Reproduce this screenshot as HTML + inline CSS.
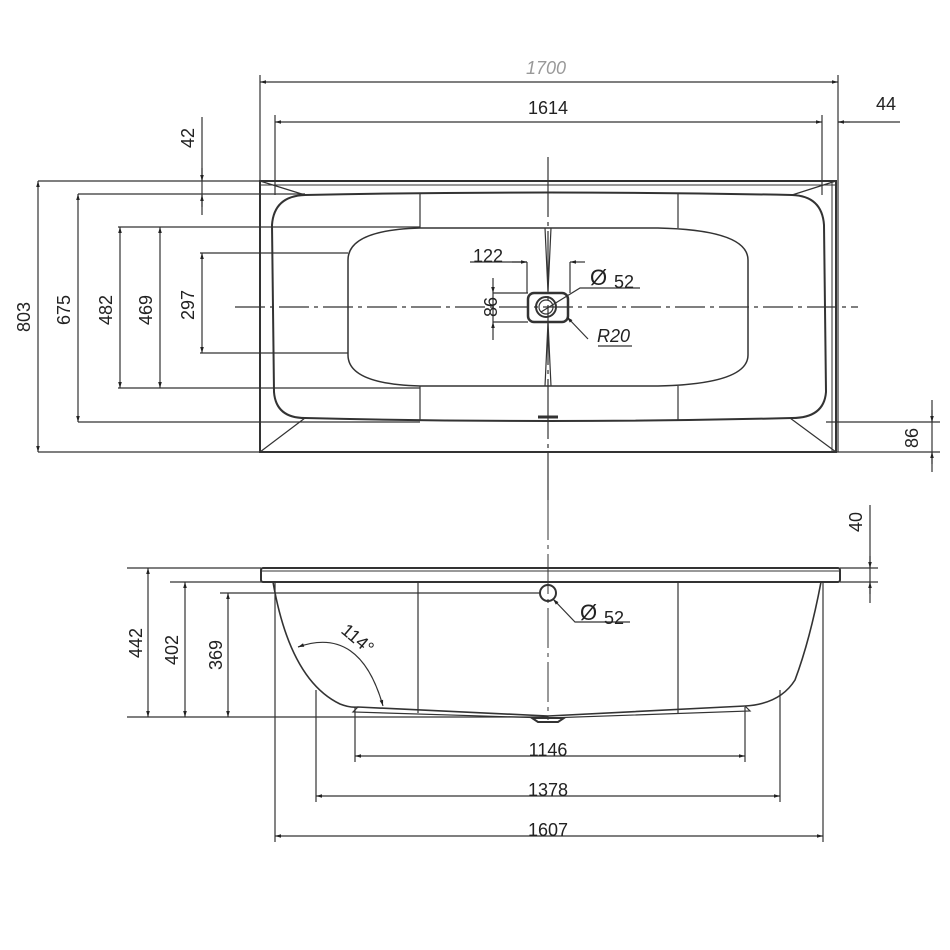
<!DOCTYPE html>
<html><head><meta charset="utf-8"><style>
html,body{margin:0;padding:0;background:#fff;}
svg{display:block}
text{font-family:"Liberation Sans","DejaVu Sans",sans-serif;font-size:18px;fill:#222}
</style></head><body>
<svg width="950" height="950" viewBox="0 0 950 950" xmlns="http://www.w3.org/2000/svg">
<defs>
<marker id="a" viewBox="0 0 10 10" refX="10" refY="5" markerWidth="8" markerHeight="6" orient="auto-start-reverse" markerUnits="userSpaceOnUse"><path d="M0,2 L10,5 L0,8z" fill="#222"/></marker>
</defs>
<g stroke="#333" stroke-width="1.2" fill="none">
<rect x="260" y="181" width="576" height="271" stroke-width="2"/>
<line x1="260" y1="185" x2="836" y2="185" stroke-width="1"/>
<line x1="832" y1="181" x2="832" y2="452" stroke-width="1"/>
<path d="M305,195 Q548,190 792,195 Q822,196 824,225 L826,392 Q824,418 792,418 Q548,424 305,418 Q276,418 274,392 L272,225 Q274,196 305,195Z" stroke-width="2"/>
<path d="M260,181 L305,195 M260,452 L305,418 M836,181 L792,195 M836,452 L790,418"/>
<path d="M420,228 L658,228 Q748,230 748,260 L748,355 Q748,384 658,386 L420,386 Q348,384 348,355 L348,260 Q348,230 420,228Z" stroke-width="1.5"/>
<line x1="420" y1="194" x2="420" y2="228"/><line x1="420" y1="386" x2="420" y2="420"/>
<line x1="678" y1="194" x2="678" y2="228"/><line x1="678" y1="386" x2="678" y2="420"/>
<line x1="235" y1="307" x2="858" y2="307" stroke-dasharray="30 5 4 5"/>
<line x1="548" y1="157" x2="548" y2="500" stroke-dasharray="60 5 4 5"/>
<line x1="548" y1="500" x2="548" y2="720" stroke-dasharray="40 5 4 5" stroke-width="1"/>
<path d="M545,228 L548,292 L551,228 M545,386 L548,322 L551,386"/>
<line x1="538" y1="417" x2="558" y2="417" stroke-width="3"/>
<rect x="528" y="293" width="40" height="29" rx="6" stroke-width="2.5"/>
<circle cx="546" cy="307" r="10" stroke-width="2"/>
<circle cx="546" cy="307" r="7"/>
<path d="M541,312 L580,288 L640,288"/>
<path d="M567,317 L588,339" marker-start="url(#a)"/>
<line x1="598" y1="346" x2="632" y2="346"/>
<line x1="527" y1="262" x2="527" y2="293"/><line x1="570" y1="262" x2="570" y2="293"/>
<line x1="470" y1="262" x2="527" y2="262"/>
<line x1="512" y1="262" x2="527" y2="262" marker-end="url(#a)"/>
<line x1="585" y1="262" x2="570" y2="262" marker-end="url(#a)"/>
<line x1="493" y1="293" x2="528" y2="293"/><line x1="493" y1="322" x2="528" y2="322"/>
<line x1="493" y1="278" x2="493" y2="293" marker-end="url(#a)"/>
<line x1="493" y1="340" x2="493" y2="322" marker-end="url(#a)"/>
<line x1="493" y1="293" x2="493" y2="322"/>
<line x1="260" y1="75" x2="260" y2="181"/><line x1="838" y1="75" x2="838" y2="452"/>
<line x1="260" y1="82" x2="838" y2="82" marker-start="url(#a)" marker-end="url(#a)"/>
<line x1="275" y1="115" x2="275" y2="195"/><line x1="822" y1="115" x2="822" y2="195"/>
<line x1="275" y1="122" x2="822" y2="122" marker-start="url(#a)" marker-end="url(#a)"/>
<line x1="838" y1="122" x2="900" y2="122"/>
<line x1="850" y1="122" x2="838" y2="122" marker-end="url(#a)"/>
<line x1="38" y1="181" x2="260" y2="181"/><line x1="38" y1="452" x2="260" y2="452"/>
<line x1="38" y1="181" x2="38" y2="452" marker-start="url(#a)" marker-end="url(#a)"/>
<line x1="78" y1="194" x2="305" y2="194"/><line x1="78" y1="422" x2="420" y2="422"/>
<line x1="78" y1="194" x2="78" y2="422" marker-start="url(#a)" marker-end="url(#a)"/>
<line x1="118" y1="227" x2="420" y2="227"/><line x1="118" y1="388" x2="420" y2="388"/>
<line x1="120" y1="227" x2="120" y2="388" marker-start="url(#a)" marker-end="url(#a)"/>
<line x1="160" y1="227" x2="160" y2="388" marker-start="url(#a)" marker-end="url(#a)"/>
<line x1="200" y1="253" x2="348" y2="253"/><line x1="200" y1="353" x2="348" y2="353"/>
<line x1="202" y1="253" x2="202" y2="353" marker-start="url(#a)" marker-end="url(#a)"/>
<line x1="202" y1="117" x2="202" y2="215"/>
<line x1="202" y1="168" x2="202" y2="181" marker-end="url(#a)"/>
<line x1="202" y1="207" x2="202" y2="195" marker-end="url(#a)"/>
<line x1="826" y1="422" x2="940" y2="422"/><line x1="836" y1="452" x2="940" y2="452"/>
<line x1="932" y1="400" x2="932" y2="472"/>
<line x1="932" y1="410" x2="932" y2="422" marker-end="url(#a)"/>
<line x1="932" y1="464" x2="932" y2="452" marker-end="url(#a)"/>
<rect x="261" y="568" width="579" height="14" rx="2" stroke-width="2"/>
<line x1="261" y1="571" x2="840" y2="571" stroke-width="1"/>
<path d="M273,582 Q290,680 340,704 Q350,708 358,707 L548,716 L745,706 Q780,704 795,680 Q810,640 821,582" stroke-width="1.6"/>
<path d="M358,707 L353,712 L548,718 M745,706 L750,711 L548,718"/>
<path d="M532,718 L564,718 L558,722 L538,722Z" stroke-width="2"/>
<line x1="418" y1="582" x2="418" y2="713"/><line x1="678" y1="582" x2="678" y2="713"/>
<circle cx="548" cy="593" r="8" stroke-width="2"/>
<path d="M553,599 L575,622 L630,622" marker-start="url(#a)"/>
<line x1="127" y1="568" x2="261" y2="568"/><line x1="127" y1="717" x2="548" y2="717"/>
<line x1="148" y1="568" x2="148" y2="717" marker-start="url(#a)" marker-end="url(#a)"/>
<line x1="170" y1="582" x2="273" y2="582"/>
<line x1="185" y1="582" x2="185" y2="717" marker-start="url(#a)" marker-end="url(#a)"/>
<line x1="220" y1="593" x2="540" y2="593"/>
<line x1="228" y1="593" x2="228" y2="717" marker-start="url(#a)" marker-end="url(#a)"/>
<line x1="840" y1="568" x2="878" y2="568"/><line x1="840" y1="582" x2="878" y2="582"/>
<line x1="870" y1="505" x2="870" y2="603"/>
<line x1="870" y1="556" x2="870" y2="568" marker-end="url(#a)"/>
<line x1="870" y1="594" x2="870" y2="582" marker-end="url(#a)"/>
<path d="M298,647 Q360,625 383,706" marker-start="url(#a)" marker-end="url(#a)"/>
<line x1="355" y1="707" x2="355" y2="762"/><line x1="745" y1="707" x2="745" y2="762"/>
<line x1="355" y1="756" x2="745" y2="756" marker-start="url(#a)" marker-end="url(#a)"/>
<line x1="316" y1="690" x2="316" y2="802"/><line x1="780" y1="690" x2="780" y2="802"/>
<line x1="316" y1="796" x2="780" y2="796" marker-start="url(#a)" marker-end="url(#a)"/>
<line x1="275" y1="582" x2="275" y2="842"/><line x1="823" y1="582" x2="823" y2="842"/>
<line x1="275" y1="836" x2="823" y2="836" marker-start="url(#a)" marker-end="url(#a)"/>
</g>
<g>
<text x="546" y="74" text-anchor="middle" style="fill:#999;font-style:italic">1700</text>
<text x="548" y="114" text-anchor="middle">1614</text>
<text x="886" y="110" text-anchor="middle">44</text>
<text x="488" y="262" text-anchor="middle">122</text>
<text x="590" y="285" style="font-size:22px">Ø</text><text x="614" y="288">52</text>
<text x="597" y="342" style="font-style:italic">R20</text>
<text transform="translate(30,317) rotate(-90)" text-anchor="middle">803</text>
<text transform="translate(70,310) rotate(-90)" text-anchor="middle">675</text>
<text transform="translate(112,310) rotate(-90)" text-anchor="middle">482</text>
<text transform="translate(152,310) rotate(-90)" text-anchor="middle">469</text>
<text transform="translate(194,305) rotate(-90)" text-anchor="middle">297</text>
<text transform="translate(194,138) rotate(-90)" text-anchor="middle">42</text>
<text transform="translate(497,307) rotate(-90)" text-anchor="middle">86</text>
<text transform="translate(918,438) rotate(-90)" text-anchor="middle">86</text>
<text transform="translate(862,522) rotate(-90)" text-anchor="middle">40</text>
<text transform="translate(142,643) rotate(-90)" text-anchor="middle">442</text>
<text transform="translate(178,650) rotate(-90)" text-anchor="middle">402</text>
<text transform="translate(222,655) rotate(-90)" text-anchor="middle">369</text>
<text x="580" y="620" style="font-size:22px">Ø</text><text x="604" y="624">52</text>
<text transform="translate(340,632) rotate(40)">114°</text>
<text x="548" y="756" text-anchor="middle">1146</text>
<text x="548" y="796" text-anchor="middle">1378</text>
<text x="548" y="836" text-anchor="middle">1607</text>
</g>
</svg>
</body></html>
